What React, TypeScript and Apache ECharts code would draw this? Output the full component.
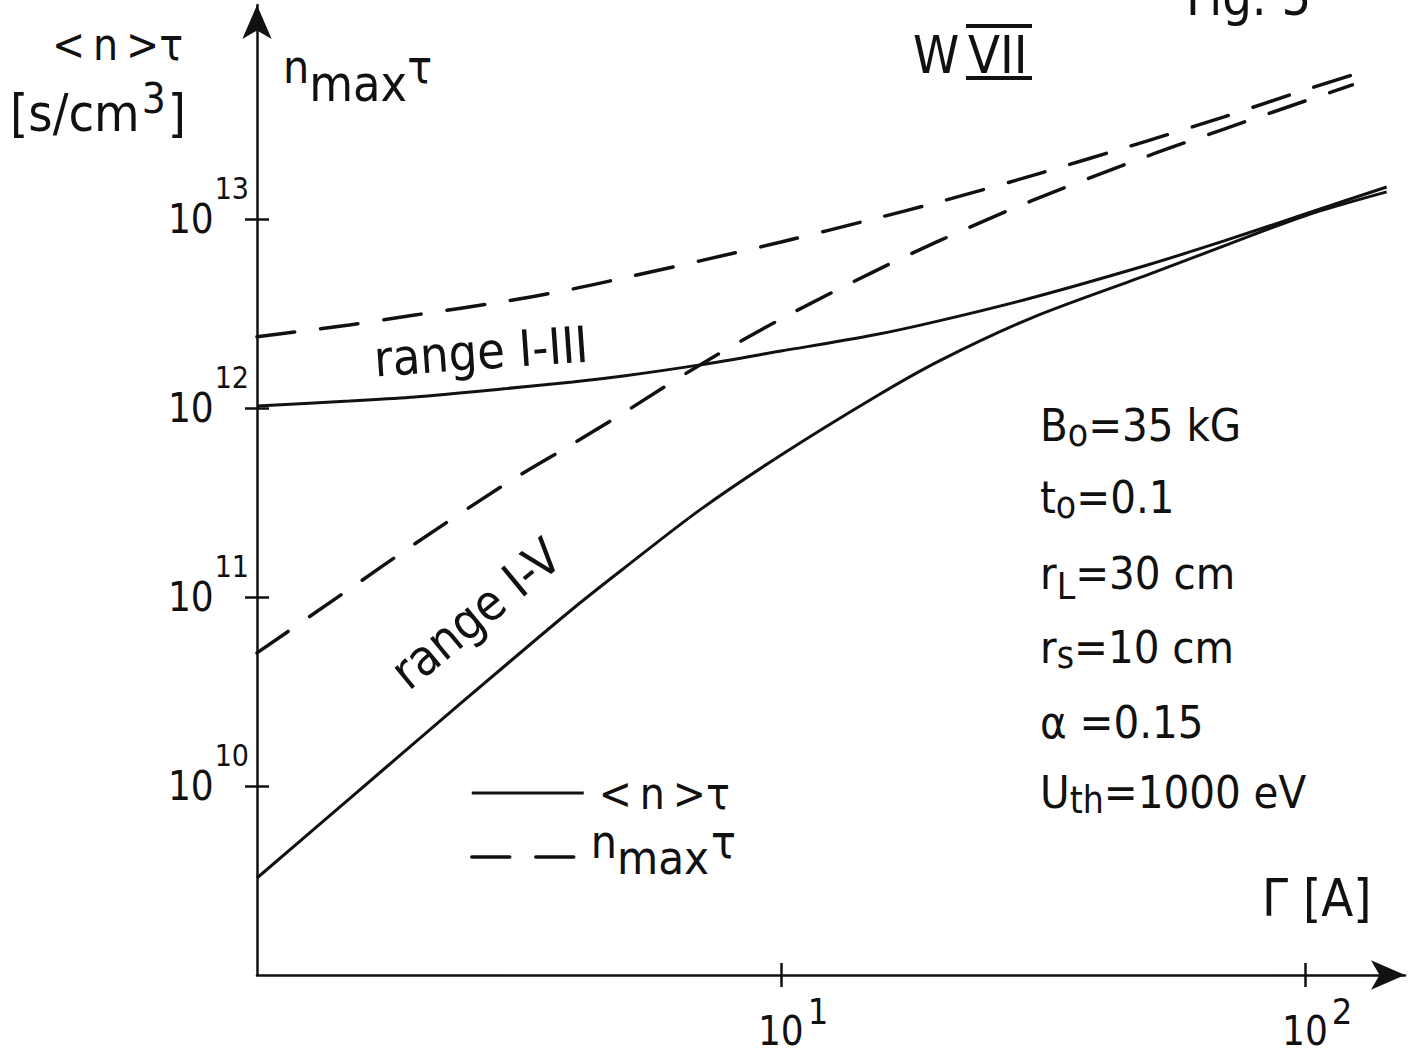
import React, { useEffect, useRef } from "react";
import * as echarts from "echarts";

// ---- data ----
const gamma = [1, 1.5, 2, 3, 4, 5, 7, 10, 15, 20, 30, 50, 70, 100, 143];
const meanTauRangeI_III = [1.025e12, 1.089e12, 1.143e12, 1.268e12, 1.373e12, 1.476e12, 1.69e12, 2.0e12, 2.43e12, 2.89e12, 3.82e12, 5.71e12, 7.65e12, 1.063e13, 1.476e13];
const meanTauRangeI_V = [3.26e9, 8.54e9, 1.697e10, 4.42e10, 8.64e10, 1.41e11, 2.89e11, 5.64e11, 1.13e12, 1.77e12, 2.99e12, 5.06e12, 7.2e12, 1.04e13, 1.39e13];
const gammaDashed = [1, 1.5, 2, 3, 4, 5, 7, 10, 15, 20, 30, 50, 70, 100, 123];
const maxTauRangeI_III = [2.38e12, 2.75e12, 3.1e12, 3.68e12, 4.26e12, 4.87e12, 6.0e12, 7.55e12, 1.0e13, 1.23e13, 1.69e13, 2.59e13, 3.47e13, 4.82e13, 5.78e13];
const maxTauRangeI_V = [5.06e10, 1.1e11, 1.91e11, 4.01e11, 6.45e11, 9.41e11, 1.69e12, 2.96e12, 5.25e12, 7.65e12, 1.245e13, 2.15e13, 2.99e13, 4.21e13, 5.12e13];
const xTickValues = [10, 100];
const yTickValues = [1e10, 1e11, 1e12, 1e13];
const xRange = [1, 155];
const yRange = [1e9, 1.355e14];
const seriesNames = ["<n>τ", "n_max τ"];
const parameterLines = [
  ["B", "o", "=35 kG"],
  ["t", "o", "=0.1"],
  ["r", "L", "=30 cm"],
  ["r", "s", "=10 cm"],
  ["α =0.15", "", ""],
  ["U", "th", "=1000 eV"],
];

const FONT = "'DejaVu Sans Condensed', 'DejaVu Sans', sans-serif";
const INK = "#111";

export default function App() {
  const ref = useRef<HTMLDivElement>(null);
  useEffect(() => {
    const chart = echarts.init(ref.current!, null, { renderer: "svg" });

    const expOf = (v: number) => Math.round(Math.log10(v));
    const tickOut = { show: true, inside: false, length: 12, lineStyle: { color: INK, width: 2.5 } };
    const tickIn = { show: true, inside: true, length: 12, lineStyle: { color: INK, width: 2.5 } };

    const xBase = {
      type: "log" as const,
      min: xRange[0],
      max: xRange[1],
      position: "bottom" as const,
      splitLine: { show: false },
      minorTick: { show: false },
    };
    const yBase = {
      type: "log" as const,
      min: yRange[0],
      max: yRange[1],
      position: "left" as const,
      splitLine: { show: false },
      minorTick: { show: false },
    };

    const params = parameterLines.map((p, i) => {
      const ys = [425, 497, 573, 647, 722, 792];
      const subPad = p[1] === "L" ? 26 : 16;
      const txt = p[1] ? `{b|${p[0]}}{u|${p[1]}}{b|${p[2]}}` : `{b|${p[0]}}`;
      return {
        type: "text",
        x: 1040,
        y: ys[i],
        style: {
          text: txt,
          verticalAlign: "middle",
          fill: INK,
          rich: {
            b: { fontSize: 45, fontFamily: FONT, fill: INK, verticalAlign: "middle" },
            u: { fontSize: 37, fontFamily: FONT, fill: INK, verticalAlign: "middle", padding: [subPad, 0, 0, 0] },
          },
        },
      };
    });

    const lineSeries = (name: string, xs: number[], ys: number[], dashed: boolean) => ({
      name,
      type: "line",
      data: xs.map((g, i) => [g, ys[i]]),
      symbol: "none",
      smooth: 0.3,
      itemStyle: { color: INK },
      lineStyle: dashed
        ? { color: INK, width: 3.5, type: [38, 26], cap: "round" }
        : { color: INK, width: 3 },
    });

    const option: any = {
      animation: false,
      backgroundColor: "#fff",
      grid: { left: 257, right: 13, top: 5, bottom: 79, outerBoundsMode: "none", containLabel: false },
      xAxis: [
        {
          ...xBase,
          axisLine: { show: true, lineStyle: { color: INK, width: 2.5 }, symbol: ["none", "arrow"], symbolSize: [22, 34] },
          axisTick: { ...tickOut, customValues: xTickValues },
          axisLabel: {
            show: true,
            customValues: xTickValues,
            margin: 18,
            formatter: (v: number) => `{p| }{b|10}{s|${expOf(v)}}`,
            rich: {
              p: { width: 24, fontSize: 38, fontFamily: FONT },
              b: { fontSize: 40, fontFamily: FONT, color: INK, verticalAlign: "middle" },
              s: { fontSize: 36, fontFamily: FONT, color: INK, verticalAlign: "middle", padding: [0, 0, 40, 4] },
            },
          },
        },
        {
          ...xBase,
          axisLine: { show: false },
          axisTick: { ...tickIn, customValues: xTickValues },
          axisLabel: { show: false },
        },
      ],
      yAxis: [
        {
          ...yBase,
          axisLine: { show: true, lineStyle: { color: INK, width: 2.5 }, symbol: ["none", "arrow"], symbolSize: [22, 34] },
          axisTick: { ...tickOut, customValues: yTickValues },
          axisLabel: {
            show: true,
            customValues: yTickValues,
            margin: 8,
            formatter: (v: number) => `{b|10}{s|${expOf(v)}}`,
            rich: {
              b: { fontSize: 40, fontFamily: FONT, color: INK, verticalAlign: "middle" },
              s: { fontSize: 30, fontFamily: FONT, color: INK, verticalAlign: "middle", padding: [0, 0, 60, 1] },
            },
          },
        },
        {
          ...yBase,
          axisLine: { show: false },
          axisTick: { ...tickIn, customValues: yTickValues },
          axisLabel: { show: false },
        },
      ],
      legend: {
        orient: "vertical",
        left: 465,
        top: 766,
        itemWidth: 112,
        itemHeight: 14,
        itemGap: 4,
        selectedMode: false,
        itemStyle: { color: "rgba(0,0,0,0)", borderColor: "rgba(0,0,0,0)", borderWidth: 0 },
        lineStyle: { width: 3 },
        data: [
          { name: seriesNames[0], lineStyle: { width: 3 } },
          { name: seriesNames[1], lineStyle: { width: 3.5 } },
        ],
        formatter: (name: string) =>
          name === seriesNames[0] ? "{a|<\u2009n\u2009>τ}" : "{r|n}{m|max}{r|τ}",
        textStyle: {
          color: INK,
          fontFamily: FONT,
          fontSize: 44,
          rich: {
            a: { fontSize: 44, fontFamily: FONT, color: INK, verticalAlign: "middle", padding: [0, 0, 0, 10] },
            r: { fontSize: 46, fontFamily: FONT, color: INK, verticalAlign: "middle", padding: [0, 0, 30, 2] },
            m: { fontSize: 47, fontFamily: FONT, color: INK, verticalAlign: "middle" },
          },
        },
      },
      series: [
        lineSeries(seriesNames[0], gamma, meanTauRangeI_III, false),
        lineSeries(seriesNames[0], gamma, meanTauRangeI_V, false),
        lineSeries(seriesNames[1], gammaDashed, maxTauRangeI_III, true),
        lineSeries(seriesNames[1], gammaDashed, maxTauRangeI_V, true),
      ],
      graphic: [
        {
          type: "text",
          x: 52,
          y: 44,
          style: { text: "<\u2009n\u2009>τ", fontSize: 44, fontFamily: FONT, fill: INK, verticalAlign: "middle" },
        },
        {
          type: "text",
          x: 10,
          y: 113,
          style: {
            text: "{b|[s/cm}{s|3}{b|]}",
            verticalAlign: "middle",
            fill: INK,
            rich: {
              b: { fontSize: 52, fontFamily: FONT, fill: INK, verticalAlign: "middle" },
              s: { fontSize: 42, fontFamily: FONT, fill: INK, verticalAlign: "middle", padding: [0, 2, 30, 2] },
            },
          },
        },
        {
          type: "text",
          x: 283,
          y: 84,
          style: {
            text: "{r|n}{m|max}{r|τ}",
            verticalAlign: "middle",
            fill: INK,
            rich: {
              r: { fontSize: 46, fontFamily: FONT, fill: INK, verticalAlign: "middle", padding: [0, 0, 34, 0] },
              m: { fontSize: 50, fontFamily: FONT, fill: INK, verticalAlign: "middle" },
            },
          },
        },
        {
          type: "text",
          x: 913,
          y: 55,
          style: { text: "W", fontSize: 52, fontFamily: FONT, fill: INK, verticalAlign: "middle" },
        },
        {
          type: "text",
          x: 968,
          y: 55,
          style: { text: "VII", fontSize: 52, fontFamily: FONT, fill: INK, verticalAlign: "middle" },
        },
        { type: "line", shape: { x1: 966, y1: 26, x2: 1032, y2: 26 }, style: { stroke: INK, lineWidth: 4 } },
        { type: "line", shape: { x1: 966, y1: 78, x2: 1032, y2: 78 }, style: { stroke: INK, lineWidth: 4 } },
        {
          type: "text",
          x: 1186,
          y: -3,
          style: { text: "Fig. 5", fontSize: 52, fontFamily: FONT, fill: INK, verticalAlign: "middle" },
        },
        {
          type: "text",
          x: 481,
          y: 352,
          rotation: 0.07,
          style: { text: "range I-III", fontSize: 50, fontFamily: FONT, fill: INK, align: "center", verticalAlign: "middle" },
        },
        {
          type: "text",
          x: 476,
          y: 614,
          rotation: 0.69,
          style: { text: "range I-V", fontSize: 50, fontFamily: FONT, fill: INK, align: "center", verticalAlign: "middle" },
        },
        {
          type: "text",
          x: 1262,
          y: 898,
          style: { text: "Γ [A]", fontSize: 52, fontFamily: FONT, fill: INK, verticalAlign: "middle" },
        },
        ...params,
      ],
    };

    chart.setOption(option);
    return () => chart.dispose();
  }, []);

  return (
    <div
      ref={ref}
      style={{ position: "fixed", left: 0, top: 0, width: 1418, height: 1054, background: "#fff" }}
    />
  );
}
